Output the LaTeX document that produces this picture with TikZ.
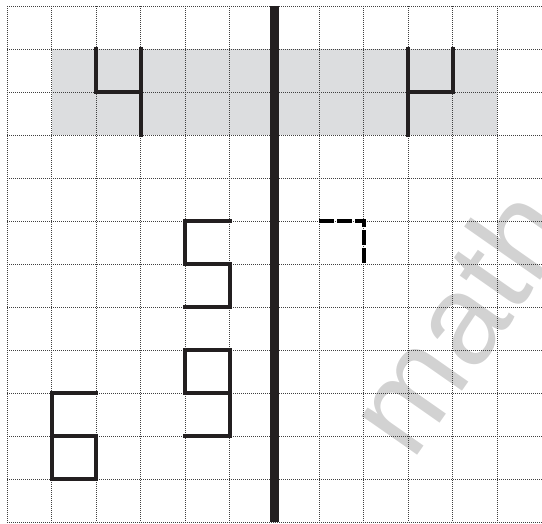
\documentclass[tikz,border=0pt]{standalone}
\usepackage{fontspec}
\newfontfamily\wmfont{Liberation Sans}
\definecolor{bandgray}{HTML}{DCDDDF}
\definecolor{wm}{HTML}{D2D2D2}
\definecolor{ink}{HTML}{231F20}
\begin{document}
\begin{tikzpicture}[x=33.435pt,y=-32.25pt,
  gridline/.style={draw=black!75, line width=0.7pt, dash pattern=on 0.8pt off 0.7pt},
  mirror/.style={draw=ink, line width=6.5pt},
  figline/.style={draw=ink, line width=3pt, line cap=rect, line join=miter},
  dashfig/.style={draw=black, line width=3.2pt, dash pattern=on 11pt off 2.5pt},
  watermark/.style={text=wm, font=\wmfont\fontsize{96}{96}\selectfont, rotate=55, inner sep=0pt}]
\useasboundingbox (-0.157,-0.1395) rectangle (12.0,12.023);
% shaded band
\fill[bandgray] (1,1) rectangle (11,3);
% watermark
\begin{scope}
\clip (-0.157,-0.1395) rectangle (12.0,12.023);
\node[watermark, anchor=base west] (wmark) at (9.1,10.62) {math};
\end{scope}
% grid
\foreach \i in {0,...,12} {
  \draw[gridline] (\i,0) -- (\i,12);
  \draw[gridline] (0,\i) -- (12,\i);
}
% mirror line
\draw[mirror] (6,0) -- (6,12);
% top-left figure
\draw[figline] (2,1) -- (2,2) -- (3,2);
\draw[figline] (3,1) -- (3,3);
% top-right figure (mirror)
\draw[figline] (10,1) -- (10,2) -- (9,2);
\draw[figline] (9,1) -- (9,3);
% "5" shape
\draw[figline] (5,5) -- (4,5) -- (4,6) -- (5,6) -- (5,7) -- (4,7);
% "9" shape
\draw[figline] (4,9) -- (4,8) -- (5,8) -- (5,10) -- (4,10);
\draw[figline] (4,9) -- (5,9);
% "6" shape
\draw[figline] (2,9) -- (1,9) -- (1,11) -- (2,11) -- (2,10) -- (1,10);
% dashed figure
\draw[dashfig] (7,5) -- (8,5) -- (8,6);
\end{tikzpicture}
\end{document}
